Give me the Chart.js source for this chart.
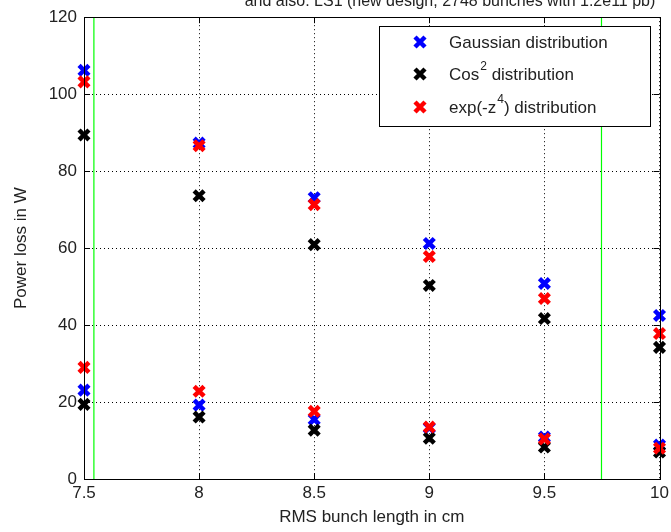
<!DOCTYPE html>
<html>
<head>
<meta charset="utf-8">
<script src="https://cdn.jsdelivr.net/npm/chart.js@4.4.1/dist/chart.umd.min.js"></script>
<style>
  html, body { margin: 0; padding: 0; background: #fff; }
  #wrap { width: 671px; height: 532px; }
</style>
</head>
<body>
<div id="wrap"><canvas id="chart" width="671" height="532"></canvas></div>
<script>
// bunch length (cm) on the x axis
const bunchLength = [7.5, 8, 8.5, 9, 9.5, 10];

// upper group of points
const gaussUpper = [106.2, 87.3, 73.1, 61.2, 50.8, 42.5];
const cosUpper   = [89.4, 73.6, 60.9, 50.3, 41.7, 34.2];
const expUpper   = [103.2, 86.6, 71.3, 57.8, 46.9, 37.8];

// lower group of points
const gaussLower = [23.1, 19.2, 15.5, 13.3, 10.9, 8.8];
const cosLower   = [19.4, 16.1, 12.7, 10.6, 8.3, 7.0];
const expLower   = [29.0, 22.8, 17.6, 13.5, 10.4, 8.0];

const seriesLabels = ['Gaussian distribution', 'Cos\u00b2 distribution', 'exp(-z\u2074) distribution'];
const seriesColors = ['#0000ff', '#000000', '#ff0000'];

// green vertical marker lines
const limitLines = [7.543, 9.748];

const xTicks = [7.5, 8, 8.5, 9, 9.5, 10];
const yTicks = [0, 20, 40, 60, 80, 100, 120];

const titleText = 'and also: LS1 (new design, 2748 bunches with 1.2e11 pb)';
const FONT = '"Liberation Sans", Arial, sans-serif';

function pts(a, b) {
  const out = [];
  bunchLength.forEach((x, i) => out.push({ x: x, y: a[i] }));
  bunchLength.forEach((x, i) => out.push({ x: x, y: b[i] }));
  return out;
}

const markerDatasets = [
  [gaussUpper, gaussLower], [cosUpper, cosLower], [expUpper, expLower]
].map((pair, i) => ({
  type: 'scatter',
  label: seriesLabels[i],
  data: pts(pair[0], pair[1]),
  pointStyle: 'crossRot',
  radius: 7,
  hoverRadius: 7,
  borderWidth: 4.5,
  borderColor: seriesColors[i],
  backgroundColor: seriesColors[i],
  order: 3 - i,
  clip: false
}));

const lineDatasets = limitLines.map(v => ({
  type: 'line',
  label: '',
  data: [{ x: v, y: 0 }, { x: v, y: 120 }],
  borderColor: '#00ff00',
  borderWidth: 1.2,
  pointRadius: 0,
  order: 10
}));

// box, inward ticks, title and legend, drawn after the chart
const decorations = {
  id: 'decorations',
  afterDraw(chart) {
    const ctx = chart.ctx;
    const a = chart.chartArea;
    const xs = chart.scales.x, ys = chart.scales.y;
    ctx.save();
    ctx.strokeStyle = '#000';
    ctx.lineWidth = 1;
    ctx.strokeRect(Math.round(a.left) + 0.5, Math.round(a.top) + 0.5,
      Math.round(a.right - a.left), Math.round(a.bottom - a.top));
    ctx.beginPath();
    xTicks.forEach(v => {
      const px = Math.round(xs.getPixelForValue(v)) + 0.5;
      ctx.moveTo(px, a.bottom); ctx.lineTo(px, a.bottom - 6);
      ctx.moveTo(px, a.top); ctx.lineTo(px, a.top + 6);
    });
    yTicks.forEach(v => {
      const py = Math.round(ys.getPixelForValue(v)) + 0.5;
      ctx.moveTo(a.left, py); ctx.lineTo(a.left + 6, py);
      ctx.moveTo(a.right, py); ctx.lineTo(a.right - 6, py);
    });
    ctx.stroke();

    // title (cut at the top edge, as in the picture)
    ctx.fillStyle = '#222';
    ctx.font = '16px ' + FONT;
    ctx.textAlign = 'center';
    ctx.textBaseline = 'alphabetic';
    ctx.fillText(titleText, 450, 6);

    // legend
    const lx = 379, ly = 26, lw = 271, lh = 100;
    ctx.fillStyle = '#fff';
    ctx.fillRect(lx, ly, lw, lh);
    ctx.strokeRect(lx + 0.5, ly + 0.5, lw, lh);
    const rows = [42, 74, 107];
    markerDatasets.forEach((ds, i) => {
      const y = rows[i];
      ctx.strokeStyle = ds.borderColor;
      ctx.lineWidth = 4.5;
      const d = 5;
      ctx.beginPath();
      ctx.moveTo(420 - d, y - d); ctx.lineTo(420 + d, y + d);
      ctx.moveTo(420 + d, y - d); ctx.lineTo(420 - d, y + d);
      ctx.stroke();
      drawLabel(ctx, ds.label, 449, y + 1);
    });
    ctx.restore();
  }
};

// draws text, turning superscript digits into small raised digits
function drawLabel(ctx, text, x, y) {
  const sup = { '\u00b2': '2', '\u2074': '4' };
  ctx.fillStyle = '#222';
  ctx.textAlign = 'left';
  ctx.textBaseline = 'middle';
  let cx = x;
  let buf = '';
  const flush = () => {
    if (!buf) return;
    ctx.font = '17px ' + FONT;
    ctx.fillText(buf, cx, y);
    cx += ctx.measureText(buf).width;
    buf = '';
  };
  for (const ch of text) {
    if (sup[ch]) {
      flush();
      ctx.font = '12px ' + FONT;
      ctx.fillText(sup[ch], cx + 1, y - 8);
      cx += ctx.measureText(sup[ch]).width + 1;
    } else {
      buf += ch;
    }
  }
  flush();
}

const tickFont = { family: FONT, size: 17 };

new Chart(document.getElementById('chart'), {
  data: { datasets: [...lineDatasets, ...markerDatasets] },
  options: {
    responsive: false,
    animation: false,
    events: [],
    layout: { padding: { left: 0, right: 11, top: 16, bottom: 0 } },
    plugins: { legend: { display: false }, tooltip: { enabled: false }, title: { display: false } },
    scales: {
      x: {
        type: 'linear',
        min: 7.5, max: 10,
        afterBuildTicks: s => { s.ticks = xTicks.map(v => ({ value: v })); },
        afterFit: s => { s.height = 53; s.paddingRight = 0; s.paddingLeft = 0; },
        border: { display: false, dash: [1, 3] },
        grid: { color: '#000', lineWidth: 1, drawTicks: false },
        ticks: { color: '#222', font: tickFont, padding: 4, maxRotation: 0, callback: v => String(v) },
        title: { display: true, text: 'RMS bunch length in cm', color: '#222', font: tickFont, padding: { top: 2, bottom: 4 } }
      },
      y: {
        type: 'linear',
        min: 0, max: 120,
        afterBuildTicks: s => { s.ticks = yTicks.map(v => ({ value: v })); },
        afterFit: s => { s.width = 84; },
        border: { display: false, dash: [1, 3] },
        grid: { color: '#000', lineWidth: 1, drawTicks: false },
        ticks: { color: '#222', font: tickFont, padding: 7, callback: v => String(v) },
        title: { display: true, text: 'Power loss in W', color: '#222', font: tickFont, padding: { top: 11, bottom: 0 } }
      }
    }
  },
  plugins: [decorations]
});
</script>
</body>
</html>
